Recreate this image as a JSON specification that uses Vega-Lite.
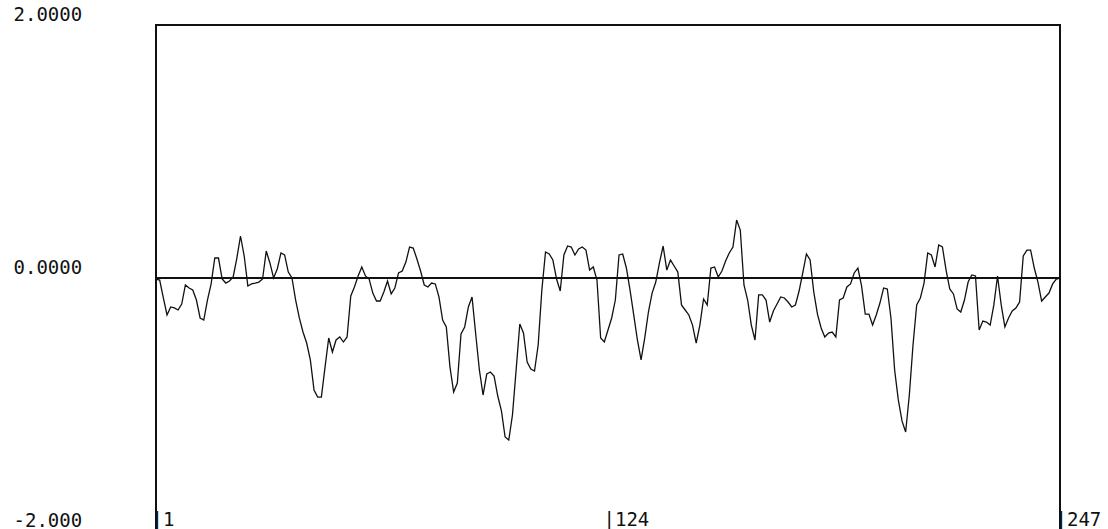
{
  "$schema": "https://vega.github.io/schema/vega-lite/v6.json",
  "autosize": {"type": "none"},
  "padding": {"left": 156, "top": 25, "right": 48, "bottom": 0},
  "width": 904,
  "height": 506,
  "background": "white",
  "config": {
    "view": {"stroke": "#111", "strokeWidth": 2},
    "font": "DejaVu Sans Mono"
  },
  "data": {
    "values": [
      {"i":1,"v":-0.008},{"i":2,"v":-0.016},{"i":3,"v":-0.158},{"i":4,"v":-0.292},{"i":5,"v":-0.229},
      {"i":6,"v":-0.237},{"i":7,"v":-0.253},{"i":8,"v":-0.206},{"i":9,"v":-0.055},{"i":10,"v":-0.079},
      {"i":11,"v":-0.095},{"i":12,"v":-0.174},{"i":13,"v":-0.316},{"i":14,"v":-0.332},{"i":15,"v":-0.174},
      {"i":16,"v":-0.047},{"i":17,"v":0.158},{"i":18,"v":0.158},{"i":19,"v":-0.008},{"i":20,"v":-0.040},
      {"i":21,"v":-0.024},{"i":22,"v":0.008},{"i":23,"v":0.158},{"i":24,"v":0.332},{"i":25,"v":0.174},
      {"i":26,"v":-0.063},{"i":27,"v":-0.047},{"i":28,"v":-0.040},{"i":29,"v":-0.032},{"i":30,"v":-0.008},
      {"i":31,"v":0.213},{"i":32,"v":0.119},{"i":33,"v":0.0},{"i":34,"v":0.071},{"i":35,"v":0.198},
      {"i":36,"v":0.182},{"i":37,"v":0.047},{"i":38,"v":0.0},{"i":39,"v":-0.174},{"i":40,"v":-0.316},
      {"i":41,"v":-0.427},{"i":42,"v":-0.514},{"i":43,"v":-0.648},{"i":44,"v":-0.885},{"i":45,"v":-0.941},
      {"i":46,"v":-0.941},{"i":47,"v":-0.704},{"i":48,"v":-0.474},{"i":49,"v":-0.585},{"i":50,"v":-0.490},
      {"i":51,"v":-0.466},{"i":52,"v":-0.506},{"i":53,"v":-0.466},{"i":54,"v":-0.142},{"i":55,"v":-0.071},
      {"i":56,"v":0.016},{"i":57,"v":0.087},{"i":58,"v":0.016},{"i":59,"v":-0.008},{"i":60,"v":-0.119},
      {"i":61,"v":-0.182},{"i":62,"v":-0.182},{"i":63,"v":-0.111},{"i":64,"v":-0.024},{"i":65,"v":-0.126},
      {"i":66,"v":-0.079},{"i":67,"v":0.040},{"i":68,"v":0.055},{"i":69,"v":0.126},{"i":70,"v":0.245},
      {"i":71,"v":0.237},{"i":72,"v":0.150},{"i":73,"v":0.055},{"i":74,"v":-0.055},{"i":75,"v":-0.071},
      {"i":76,"v":-0.040},{"i":77,"v":-0.047},{"i":78,"v":-0.150},{"i":79,"v":-0.332},{"i":80,"v":-0.387},
      {"i":81,"v":-0.704},{"i":82,"v":-0.901},{"i":83,"v":-0.830},{"i":84,"v":-0.443},{"i":85,"v":-0.387},
      {"i":86,"v":-0.229},{"i":87,"v":-0.150},{"i":88,"v":-0.443},{"i":89,"v":-0.727},{"i":90,"v":-0.925},
      {"i":91,"v":-0.759},{"i":92,"v":-0.743},{"i":93,"v":-0.775},{"i":94,"v":-0.933},{"i":95,"v":-1.051},
      {"i":96,"v":-1.257},{"i":97,"v":-1.281},{"i":98,"v":-1.083},{"i":99,"v":-0.727},{"i":100,"v":-0.364},
      {"i":101,"v":-0.435},{"i":102,"v":-0.664},{"i":103,"v":-0.719},{"i":104,"v":-0.735},{"i":105,"v":-0.530},
      {"i":106,"v":-0.095},{"i":107,"v":0.206},{"i":108,"v":0.190},{"i":109,"v":0.142},{"i":110,"v":-0.008},
      {"i":111,"v":-0.103},{"i":112,"v":0.182},{"i":113,"v":0.253},{"i":114,"v":0.245},{"i":115,"v":0.182},
      {"i":116,"v":0.229},{"i":117,"v":0.245},{"i":118,"v":0.221},{"i":119,"v":0.063},{"i":120,"v":0.087},
      {"i":121,"v":-0.016},{"i":122,"v":-0.474},{"i":123,"v":-0.506},{"i":124,"v":-0.411},{"i":125,"v":-0.316},
      {"i":126,"v":-0.174},{"i":127,"v":0.182},{"i":128,"v":0.190},{"i":129,"v":0.079},{"i":130,"v":-0.095},
      {"i":131,"v":-0.292},{"i":132,"v":-0.490},{"i":133,"v":-0.648},{"i":134,"v":-0.474},{"i":135,"v":-0.269},
      {"i":136,"v":-0.119},{"i":137,"v":-0.032},{"i":138,"v":0.119},{"i":139,"v":0.253},{"i":140,"v":0.063},
      {"i":141,"v":0.142},{"i":142,"v":0.095},{"i":143,"v":0.047},{"i":144,"v":-0.213},{"i":145,"v":-0.253},
      {"i":146,"v":-0.292},{"i":147,"v":-0.372},{"i":148,"v":-0.514},{"i":149,"v":-0.372},{"i":150,"v":-0.166},
      {"i":151,"v":-0.213},{"i":152,"v":0.079},{"i":153,"v":0.087},{"i":154,"v":0.008},{"i":155,"v":0.055},
      {"i":156,"v":0.134},{"i":157,"v":0.198},{"i":158,"v":0.245},{"i":159,"v":0.458},{"i":160,"v":0.379},
      {"i":161,"v":-0.055},{"i":162,"v":-0.174},{"i":163,"v":-0.372},{"i":164,"v":-0.490},{"i":165,"v":-0.134},
      {"i":166,"v":-0.134},{"i":167,"v":-0.174},{"i":168,"v":-0.348},{"i":169,"v":-0.261},{"i":170,"v":-0.206},
      {"i":171,"v":-0.150},{"i":172,"v":-0.158},{"i":173,"v":-0.190},{"i":174,"v":-0.229},{"i":175,"v":-0.213},
      {"i":176,"v":-0.103},{"i":177,"v":0.040},{"i":178,"v":0.190},{"i":179,"v":0.142},{"i":180,"v":-0.111},
      {"i":181,"v":-0.285},{"i":182,"v":-0.395},{"i":183,"v":-0.466},{"i":184,"v":-0.435},{"i":185,"v":-0.427},
      {"i":186,"v":-0.466},{"i":187,"v":-0.174},{"i":188,"v":-0.158},{"i":189,"v":-0.071},{"i":190,"v":-0.047},
      {"i":191,"v":0.040},{"i":192,"v":0.079},{"i":193,"v":-0.063},{"i":194,"v":-0.285},{"i":195,"v":-0.285},
      {"i":196,"v":-0.372},{"i":197,"v":-0.292},{"i":198,"v":-0.198},{"i":199,"v":-0.079},{"i":200,"v":-0.087},
      {"i":201,"v":-0.316},{"i":202,"v":-0.727},{"i":203,"v":-0.964},{"i":204,"v":-1.130},{"i":205,"v":-1.217},
      {"i":206,"v":-0.925},{"i":207,"v":-0.530},{"i":208,"v":-0.213},{"i":209,"v":-0.158},{"i":210,"v":-0.040},
      {"i":211,"v":0.198},{"i":212,"v":0.182},{"i":213,"v":0.087},{"i":214,"v":0.261},{"i":215,"v":0.245},
      {"i":216,"v":0.063},{"i":217,"v":-0.087},{"i":218,"v":-0.126},{"i":219,"v":-0.245},{"i":220,"v":-0.269},
      {"i":221,"v":-0.174},{"i":222,"v":-0.032},{"i":223,"v":0.024},{"i":224,"v":0.016},{"i":225,"v":-0.411},
      {"i":226,"v":-0.340},{"i":227,"v":-0.348},{"i":228,"v":-0.372},{"i":229,"v":-0.213},{"i":230,"v":0.016},
      {"i":231,"v":-0.213},{"i":232,"v":-0.387},{"i":233,"v":-0.316},{"i":234,"v":-0.261},{"i":235,"v":-0.237},
      {"i":236,"v":-0.190},{"i":237,"v":0.174},{"i":238,"v":0.221},{"i":239,"v":0.221},{"i":240,"v":0.079},
      {"i":241,"v":-0.032},{"i":242,"v":-0.182},{"i":243,"v":-0.150},{"i":244,"v":-0.119},{"i":245,"v":-0.047},
      {"i":246,"v":-0.008},{"i":247,"v":0.0}
    ]
  },
  "encoding": {
    "x": {
      "field": "i", "type": "quantitative",
      "scale": {"domain": [1, 247], "nice": false, "zero": false},
      "axis": {
        "title": null, "values": [1, 124, 247], "grid": false, "domain": false,
        "ticks": false, "tickSize": 0, "labelPadding": -12, "labelAlign": "left",
        "labelBaseline": "middle", "labelOffset": -5, "labelFlush": false, "labelOverlap": false,
        "labelBound": false, "labelFont": "DejaVu Sans Mono", "labelFontSize": 19,
        "labelColor": "#111", "labelExpr": "'|' + datum.value"
      }
    },
    "y": {
      "field": "v", "type": "quantitative",
      "scale": {"domain": [-2, 2], "nice": false},
      "axis": {
        "title": null, "values": [-2, 0, 2], "grid": false, "domain": false,
        "ticks": false, "tickSize": 0, "labelPadding": 143, "labelAlign": "left",
        "labelBaseline": "middle", "labelOffset": -11, "labelFlush": false,
        "labelOverlap": false, "labelBound": false, "labelFont": "DejaVu Sans Mono",
        "labelFontSize": 19, "labelColor": "#111",
        "labelExpr": "datum.value == 2 ? '2.0000' : datum.value == 0 ? '0.0000' : '-2.000'"
      }
    }
  },
  "layer": [
    {
      "mark": {"type": "rule", "color": "#111", "strokeWidth": 2},
      "encoding": {"y": {"datum": 0}, "x": null}
    },
    {
      "mark": {"type": "line", "color": "#111", "strokeWidth": 1.3}
    }
  ]
}
